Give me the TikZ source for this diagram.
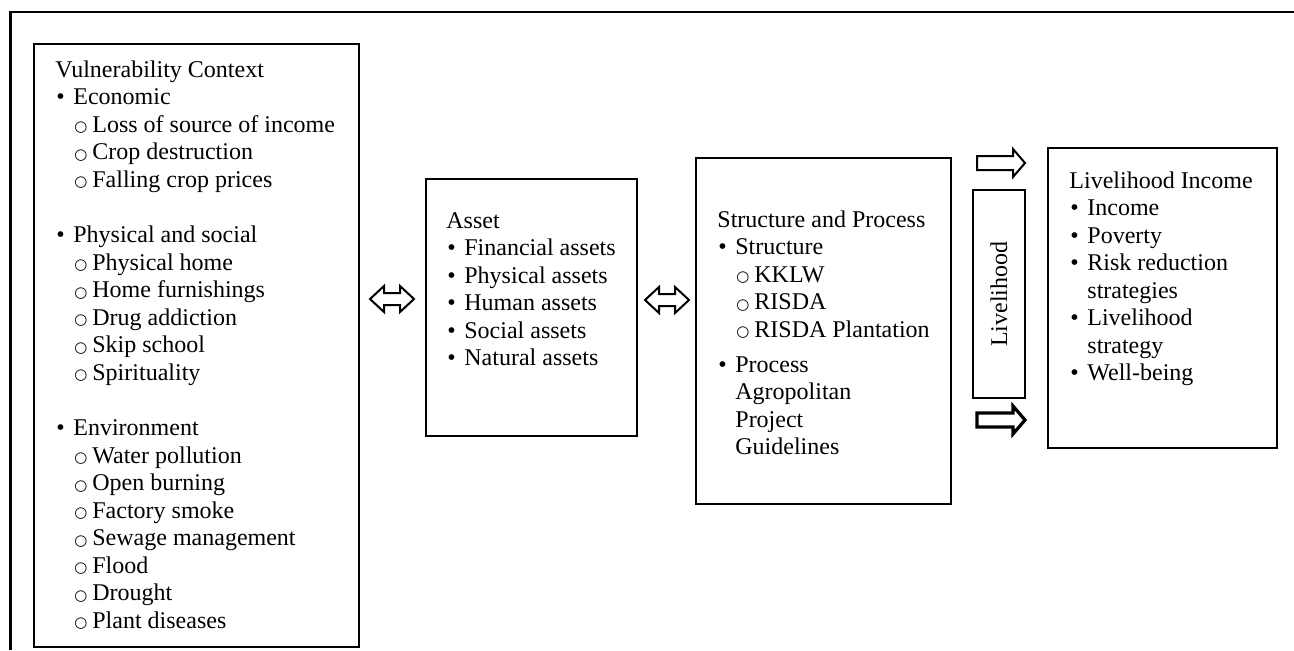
\documentclass[tikz,border=0pt]{standalone}
\usepackage{fontspec}
\setmainfont{Liberation Serif}
\newfontfamily\symfnt{DejaVu Sans}
\usetikzlibrary{calc}

\newcommand{\itm}[1]{\makebox[9pt][l]{\hspace*{0.5pt}\textbullet}#1}
\newcommand{\subo}{\raisebox{0.2pt}{\fontsize{7.5pt}{7.5pt}\selectfont\symfnt ○}}
\newcommand{\subitm}[1]{\hspace*{9.5pt}\makebox[9pt][l]{\subo}#1}
\newcommand{\cont}[1]{\hspace*{9pt}#1}

\tikzset{
  box/.style={draw, line width=1pt, anchor=north west, inner sep=0pt},
  boxtext/.style={anchor=base west, inner sep=0pt, font=\fontsize{12pt}{13.75pt}\selectfont},
  dblarrow/.pic={\draw[line width=1pt, fill=white] (-11,0) -- (-4,6.5) -- (-4,3) -- (4,3) -- (4,6.5) -- (11,0) -- (4,-6.5) -- (4,-3) -- (-4,-3) -- (-4,-6.5) -- cycle;},
  blockarrow/.pic={\draw[fill=white] (-12,3.5) -- (6,3.5) -- (6,7) -- (12,0) -- (6,-7) -- (6,-3.5) -- (-12,-3.5) -- cycle;}
}

\begin{document}
\begin{tikzpicture}[x=1pt, y=1pt]
\useasboundingbox (0,0) rectangle (647,-325);
% outer frame
\draw[line width=1.1pt] (5.25,-325) -- (5.25,-6) -- (647,-6);

% boxes
\node[box, minimum width=162.5pt, minimum height=301.5pt] (vul) at (16.5,-21.5) {};
\node[box, minimum width=105.5pt, minimum height=128.5pt] (asset) at (212.5,-89) {};
\node[box, minimum width=127.5pt, minimum height=173pt] (struct) at (347.5,-78.5) {};
\node[box, minimum width=114.5pt, minimum height=150pt] (income) at (523.5,-73.5) {};
\node[draw, line width=1pt, rotate=90, minimum width=104pt, minimum height=26pt, inner sep=0pt,
  font=\fontsize{12pt}{13.75pt}\selectfont] (liv) at (499.5,-147) {Livelihood};

% texts
\node[boxtext] (vultxt) at ([shift={(11pt,-17pt)}]vul.north west) {\parbox[t]{150pt}{%
Vulnerability Context\\
\itm{Economic}\\
\subitm{Loss of source of income}\\
\subitm{Crop destruction}\\
\subitm{Falling crop prices}\\[14pt]
\itm{Physical and social}\\
\subitm{Physical home}\\
\subitm{Home furnishings}\\
\subitm{Drug addiction}\\
\subitm{Skip school}\\
\subitm{Spirituality}\\[14pt]
\itm{Environment}\\
\subitm{Water pollution}\\
\subitm{Open burning}\\
\subitm{Factory smoke}\\
\subitm{Sewage management}\\
\subitm{Flood}\\
\subitm{Drought}\\
\subitm{Plant diseases}}};

\node[boxtext] (assettxt) at ([shift={(10.5pt,-25pt)}]asset.north west) {\parbox[t]{95pt}{%
Asset\\
\itm{Financial assets}\\
\itm{Physical assets}\\
\itm{Human assets}\\
\itm{Social assets}\\
\itm{Natural assets}}};

\node[boxtext] (structtxt) at ([shift={(11pt,-35pt)}]struct.north west) {\parbox[t]{115pt}{%
Structure and Process\\
\itm{Structure}\\
\subitm{KKLW}\\
\subitm{RISDA}\\
\subitm{RISDA Plantation}\\[3.75pt]
\itm{Process}\\
\cont{Agropolitan}\\
\cont{Project}\\
\cont{Guidelines}}};

\node[boxtext] (incometxt) at ([shift={(11pt,-20.5pt)}]income.north west) {\parbox[t]{100pt}{%
Livelihood Income\\
\itm{Income}\\
\itm{Poverty}\\
\itm{Risk reduction}\\
\cont{strategies}\\
\itm{Livelihood}\\
\cont{strategy}\\
\itm{Well-being}}};

% arrows
\pic at (196,-149.5) {dblarrow};
\pic at (333.5,-150) {dblarrow};
\pic[line width=1pt] at (500.5,-81.5) {blockarrow};
\pic[line width=1.6pt] at (500.5,-210) {blockarrow};
\end{tikzpicture}
\end{document}
